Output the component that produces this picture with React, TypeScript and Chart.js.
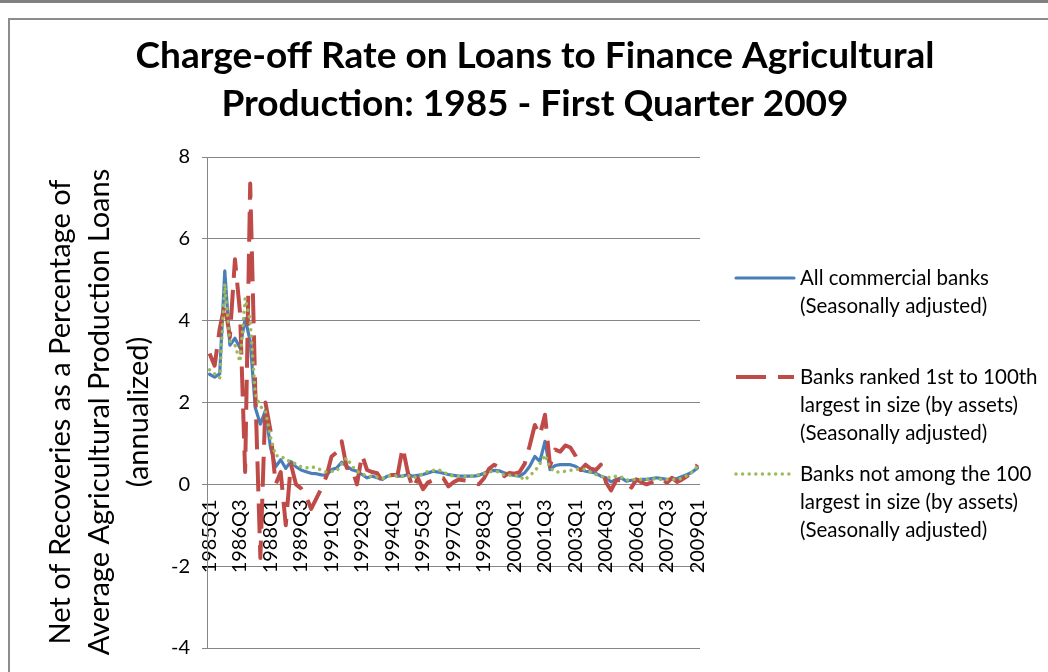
import React, { useEffect, useRef } from 'react';
import { Chart, registerables } from 'chart.js';

Chart.register(...registerables);

// ---- Data ----
const categories: string[] = [];
for (let y = 1985; y <= 2009; y++) {
  for (let q = 1; q <= 4; q++) {
    if (y === 2009 && q > 1) break;
    categories.push(`${y}Q${q}`);
  }
}

const xTickLabels = [
  '1985Q1', '1986Q3', '1988Q1', '1989Q3', '1991Q1', '1992Q3', '1994Q1', '1995Q3', '1997Q1',
  '1998Q3', '2000Q1', '2001Q3', '2003Q1', '2004Q3', '2006Q1', '2007Q3', '2009Q1',
];
const yTicks = [-4, -2, 0, 2, 4, 6, 8];

const allBanks = [
  2.69, 2.62, 2.7, 5.22, 3.4, 3.57, 3.33, 4.05, 3.5, 1.87,
  1.47, 1.8, 0.9, 0.43, 0.6, 0.39, 0.56, 0.43, 0.35, 0.31,
  0.27, 0.26, 0.23, 0.22, 0.36, 0.4, 0.54, 0.44, 0.36, 0.32,
  0.24, 0.16, 0.2, 0.16, 0.12, 0.2, 0.24, 0.2, 0.2, 0.24,
  0.2, 0.22, 0.24, 0.28, 0.32, 0.3, 0.27, 0.24, 0.22, 0.2,
  0.2, 0.2, 0.2, 0.22, 0.27, 0.32, 0.34, 0.33, 0.28, 0.24,
  0.22, 0.2, 0.28, 0.44, 0.68, 0.56, 1.05, 0.36, 0.46, 0.48,
  0.48, 0.48, 0.44, 0.36, 0.32, 0.3, 0.27, 0.2, 0.16, 0.06,
  0.12, 0.16, 0.08, 0.1, 0.1, 0.12, 0.12, 0.14, 0.16, 0.14,
  0.12, 0.12, 0.14, 0.19, 0.24, 0.3, 0.4,
];

const largeBanks = [
  3.2, 2.9, 3.8, 4.4, 3.6, 5.5, 4.2, 0.3, 7.35, 2.3,
  -1.8, 2.0, 1.3, 0.0, 0.3, -1.0, 0.5, 0.0, -0.1, -0.3,
  -0.6, -0.35, -0.1, 0.2, 0.68, 0.78, 1.05, 0.4, 0.4, 0.0,
  0.72, 0.35, 0.3, 0.27, 0.07, 0.2, 0.23, 0.23, 0.9, 0.3,
  -0.1, 0.15, -0.12, 0.05, 0.1, 0.18, 0.15, -0.05, 0.05, 0.12,
  0.1, 0.08, 0.03, 0.0, 0.15, 0.38, 0.48, 0.42, 0.2, 0.28,
  0.26, 0.3, 0.5, 0.95, 1.45, 1.2, 1.7, 0.45, 0.85, 0.8,
  0.95, 0.9, 0.7, 0.35, 0.48, 0.38, 0.35, 0.48, 0.05, -0.15,
  0.1, 0.1, 0.04, -0.08, 0.12, 0.05, 0.0, 0.05, 0.12, 0.12,
  0.04, 0.16, 0.06, 0.12, 0.2, 0.32, 0.48,
];

const smallBanks = [
  2.8, 2.7, 2.6, 4.9, 3.5, 3.4, 3.0, 4.55, 4.0, 2.2,
  1.9, 1.8, 1.15, 0.7, 0.7, 0.6, 0.55, 0.5, 0.43, 0.4,
  0.43, 0.4, 0.35, 0.3, 0.32, 0.32, 0.5, 0.65, 0.45, 0.32,
  0.26, 0.2, 0.2, 0.18, 0.14, 0.2, 0.22, 0.2, 0.2, 0.22,
  0.16, 0.2, 0.26, 0.32, 0.34, 0.36, 0.3, 0.24, 0.2, 0.2,
  0.2, 0.2, 0.2, 0.24, 0.26, 0.3, 0.32, 0.3, 0.22, 0.22,
  0.22, 0.2, 0.1, 0.22, 0.32, 0.5, 0.72, 0.4, 0.3, 0.3,
  0.32, 0.34, 0.36, 0.38, 0.36, 0.3, 0.24, 0.2, 0.18, 0.16,
  0.2, 0.18, 0.1, 0.12, 0.12, 0.12, 0.12, 0.13, 0.13, 0.12,
  0.12, 0.12, 0.12, 0.15, 0.22, 0.3, 0.44,
];

const seriesNames = [
  'All commercial banks (Seasonally adjusted)',
  'Banks ranked 1st to 100th largest in size (by assets) (Seasonally adjusted)',
  'Banks not among the 100 largest in size (by assets) (Seasonally adjusted)',
];
const legendLines = [
  ['All commercial banks', '(Seasonally adjusted)'],
  ['Banks ranked 1st to 100th', 'largest in size (by assets)', '(Seasonally adjusted)'],
  ['Banks not among the 100', 'largest in size (by assets)', '(Seasonally adjusted)'],
];
const titleLines = ['Charge-off Rate on Loans to Finance Agricultural', 'Production: 1985 - First Quarter 2009'];
const yTitleLines = [
  'Net of Recoveries as a Percentage of',
  'Average Agricultural Production Loans',
  '(annualized)',
];

const FONT = 'Lato, "Open Sans", sans-serif';

const decorPlugin = {
  id: 'decor',
  beforeDraw(chart: any) {
    const { ctx, width, height } = chart;
    ctx.save();
    ctx.fillStyle = '#ffffff';
    ctx.fillRect(0, 0, width, height);
    ctx.fillStyle = '#808080';
    ctx.fillRect(0, 0, width, 3);
    ctx.strokeStyle = '#8c8c8c';
    ctx.lineWidth = 2;
    ctx.beginPath();
    ctx.moveTo(9, height + 5);
    ctx.lineTo(9, 19);
    ctx.lineTo(width + 5, 19);
    ctx.stroke();
    ctx.restore();
  },
  afterDraw(chart: any) {
    const { ctx } = chart;
    ctx.save();
    // Title
    ctx.fillStyle = '#000';
    ctx.textAlign = 'center';
    ctx.textBaseline = 'middle';
    ctx.font = `bold 37px ${FONT}`;
    titleLines.forEach((t, i) => ctx.fillText(t, 535, 56 + i * 48));

    // Y axis title (rotated)
    ctx.save();
    ctx.rotate(-Math.PI / 2);
    ctx.font = `29px ${FONT}`;
    yTitleLines.forEach((t, i) => ctx.fillText(t, -412, 61 + i * 39));
    ctx.restore();

    // Legend
    const legendY = [278, 377, 474];
    chart.data.datasets.forEach((ds: any, i: number) => {
      const y0 = legendY[i];
      ctx.save();
      ctx.strokeStyle = ds.borderColor;
      ctx.lineWidth = ds.borderWidth;
      ctx.lineCap = ds.borderCapStyle || 'butt';
      ctx.setLineDash(ds.borderDash || []);
      ctx.beginPath();
      ctx.moveTo(736, y0);
      ctx.lineTo(794, y0);
      ctx.stroke();
      ctx.restore();
      ctx.fillStyle = '#000';
      ctx.textAlign = 'left';
      ctx.textBaseline = 'middle';
      ctx.font = `20.5px ${FONT}`;
      legendLines[i].forEach((t, j) => ctx.fillText(t, 800, y0 + j * 28));
    });
    ctx.restore();
  },
};

export default function App() {
  const canvasRef = useRef<HTMLCanvasElement | null>(null);

  useEffect(() => {
    const canvas = canvasRef.current;
    if (!canvas) return;
    const chart = new Chart(canvas, {
      type: 'line',
      data: {
        labels: categories,
        datasets: [
          {
            label: seriesNames[0],
            data: allBanks,
            borderColor: '#4A7EBB',
            backgroundColor: '#4A7EBB',
            borderWidth: 3.2,
            borderCapStyle: 'round',
            borderJoinStyle: 'round',
            pointRadius: 0,
            tension: 0,
            order: 3,
          },
          {
            label: seriesNames[1],
            data: largeBanks,
            borderColor: '#BE4B48',
            backgroundColor: '#BE4B48',
            borderWidth: 4,
            borderDash: [30, 12],
            borderCapStyle: 'butt',
            borderJoinStyle: 'round',
            pointRadius: 0,
            tension: 0,
            order: 2,
          },
          {
            label: seriesNames[2],
            data: smallBanks,
            borderColor: '#9BBB59',
            backgroundColor: '#9BBB59',
            borderWidth: 3.5,
            borderDash: [0.01, 6.6],
            borderCapStyle: 'round',
            borderJoinStyle: 'round',
            pointRadius: 0,
            tension: 0,
            order: 1,
          },
        ],
      },
      options: {
        responsive: false,
        animation: false,
        devicePixelRatio: 1,
        layout: { padding: { left: 0, top: 157, right: 348, bottom: 19 } },
        plugins: {
          legend: { display: false },
          title: { display: false },
          tooltip: { enabled: false },
        },
        scales: {
          x: {
            type: 'category',
            position: { y: 0 } as any,
            offset: true,
            grid: { display: false },
            border: { display: false },
            ticks: {
              autoSkip: false,
              maxRotation: 90,
              minRotation: 90,
              padding: 7,
              color: '#000',
              font: { family: FONT, size: 20 },
              callback: (_v: any, index: number) => {
                const lab = categories[index];
                return xTickLabels.includes(lab) ? lab : '';
              },
            },
            afterFit: (s: any) => {
              s.height = 0;
            },
          },
          y: {
            min: -4,
            max: 8,
            afterBuildTicks: (s: any) => {
              s.ticks = yTicks.map((v) => ({ value: v }));
            },
            ticks: {
              color: '#000',
              padding: 12,
              font: { family: FONT, size: 20 },
            },
            grid: { color: '#868686', lineWidth: 1, tickLength: 5, drawTicks: true },
            border: { display: true, color: '#868686', width: 1 },
            afterFit: (s: any) => {
              s.width = 207;
            },
          },
        },
      },
      plugins: [decorPlugin],
    } as any);
    return () => chart.destroy();
  }, []);

  return (
    <div style={{ position: 'fixed', left: 0, top: 0, width: 1048, height: 672 }}>
      <canvas ref={canvasRef} width={1048} height={672} style={{ display: 'block', width: 1048, height: 672 }} />
    </div>
  );
}
